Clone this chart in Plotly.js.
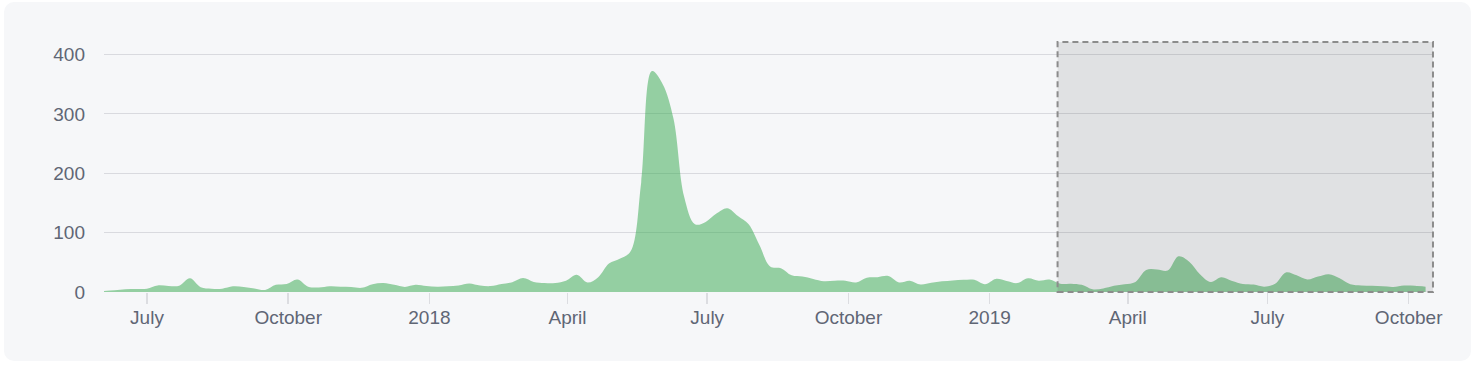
<!DOCTYPE html>
<html>
<head>
<meta charset="utf-8">
<script src="https://cdn.plot.ly/plotly-3.0.1.min.js"></script>
<style>
  html, body { margin:0; padding:0; background:#ffffff; overflow:hidden; }
  #card { position:absolute; left:4px; top:2px; width:1467px; height:359px; background:#f6f7f9; border-radius:10px; }
  #chart { position:absolute; left:0; top:0; width:1474px; height:368px; }
</style>
</head>
<body>
<div id="card"></div>
<div id="chart"></div>
<script>
// Weekly dates
const dates = [
  '2017-06-03','2017-06-10','2017-06-17','2017-06-24','2017-07-01','2017-07-08','2017-07-15','2017-07-22','2017-07-29',
  '2017-08-05','2017-08-12','2017-08-19','2017-08-26','2017-09-02','2017-09-09','2017-09-16','2017-09-23','2017-09-30',
  '2017-10-07','2017-10-14','2017-10-21','2017-10-28','2017-11-04','2017-11-11','2017-11-18','2017-11-25',
  '2017-12-02','2017-12-09','2017-12-16','2017-12-23','2017-12-30',
  '2018-01-06','2018-01-13','2018-01-20','2018-01-27','2018-02-03','2018-02-10','2018-02-17','2018-02-24',
  '2018-03-03','2018-03-10','2018-03-17','2018-03-24','2018-03-31','2018-04-07','2018-04-14','2018-04-21','2018-04-28',
  '2018-05-05','2018-05-12','2018-05-19','2018-05-26','2018-06-02','2018-06-09','2018-06-16','2018-06-23','2018-06-30',
  '2018-07-07','2018-07-14','2018-07-21','2018-07-28','2018-08-04','2018-08-11','2018-08-18','2018-08-25',
  '2018-09-01','2018-09-08','2018-09-15','2018-09-22','2018-09-29','2018-10-06','2018-10-13','2018-10-20','2018-10-27',
  '2018-11-03','2018-11-10','2018-11-17','2018-11-24','2018-12-01','2018-12-08','2018-12-15','2018-12-22','2018-12-29',
  '2019-01-05','2019-01-12','2019-01-19','2019-01-26','2019-02-02','2019-02-09','2019-02-16','2019-02-23',
  '2019-03-02','2019-03-09','2019-03-16','2019-03-23','2019-03-30','2019-04-06','2019-04-13','2019-04-20','2019-04-27',
  '2019-05-04','2019-05-11','2019-05-18','2019-05-25','2019-06-01','2019-06-08','2019-06-15','2019-06-22','2019-06-29',
  '2019-07-06','2019-07-13','2019-07-20','2019-07-27','2019-08-03','2019-08-10','2019-08-17','2019-08-24','2019-08-31',
  '2019-09-07','2019-09-14','2019-09-21','2019-09-28','2019-10-05','2019-10-12'
];

// Weekly counts
const counts = [
  1.5, 3, 4.5, 5, 5.5, 11, 10, 10.5, 23,
  8, 5.5, 5.5, 9.5, 8.5, 6, 3.5, 12, 13.5,
  21, 9, 7.5, 9.5, 9, 8.5, 7, 13,
  15, 12, 8.5, 12, 10,
  9, 9.5, 11, 14.5, 11, 10, 13.5, 16.5,
  23.5, 17, 15, 15, 19, 29, 16, 25, 48,
  56, 68, 185, 372, 350, 292, 160, 114, 118,
  132, 141, 128, 114, 79, 43, 40, 28,
  26, 22, 18, 19, 19, 16, 24, 25, 27,
  16, 19, 12.5, 15.5, 18, 19.5, 20.5, 20.5, 13,
  22, 18.5, 15, 23, 19, 21, 14, 14,
  12, 4.5, 6, 10.5, 13, 17, 37, 38, 36,
  60, 51, 30, 17, 25, 18.5, 13.5, 12.5, 9,
  14, 33, 28, 21, 26, 30, 23, 13, 11,
  10.5, 9.5, 8.5, 11, 10.5, 9
];

const xTickVals = ['2017-07-01','2017-10-01','2018-01-01','2018-04-01','2018-07-01','2018-10-01','2019-01-01','2019-04-01','2019-07-01','2019-10-01'];
const xTickText = ['July','October','2018','April','July','October','2019','April','July','October'];
const yTickVals = [0, 100, 200, 300, 400];
const yTickText = ['0', '100', '200', '300', '400'];

const selStart = '2019-02-14 06:00';
const selEnd = '2019-10-16 20:00';

const trace = {
  type: 'scatter',
  mode: 'lines',
  x: dates,
  y: counts,
  line: { shape: 'spline', smoothing: 1, width: 0, color: 'rgba(50,167,75,0.5)' },
  fill: 'tozeroy',
  fillcolor: 'rgba(50,167,75,0.5)',
  hoverinfo: 'skip'
};

const font = { family: '"Liberation Sans", Arial, Helvetica, sans-serif', size: 19, color: '#5f6675' };

const layout = {
  width: 1474,
  height: 368,
  margin: { l: 104, r: 40, t: 42, b: 76 },
  paper_bgcolor: 'rgba(0,0,0,0)',
  plot_bgcolor: 'rgba(0,0,0,0)',
  font: font,
  showlegend: false,
  xaxis: {
    type: 'date',
    range: ['2017-06-03', '2019-10-17 12:00'],
    tickvals: xTickVals,
    ticktext: xTickText,
    showgrid: false,
    zeroline: false,
    showline: false,
    ticks: 'outside',
    ticklen: 11,
    tickwidth: 1.5,
    tickcolor: '#dcdde1',
    ticklabelstandoff: -3,
    tickfont: font
  },
  yaxis: {
    range: [0, 421],
    tickvals: yTickVals,
    ticktext: yTickText,
    showgrid: true,
    gridcolor: '#d9dadf',
    gridwidth: 1,
    zeroline: false,
    showline: false,
    ticks: '',
    ticklabelstandoff: 18,
    tickfont: font
  },
  shapes: [{
    type: 'rect',
    xref: 'x', yref: 'paper',
    x0: selStart, x1: selEnd,
    y0: 0, y1: 1,
    fillcolor: 'rgba(0,0,0,0.085)',
    line: { color: '#8c8c8c', width: 2, dash: '6px,4px' },
    layer: 'above'
  }]
};

Plotly.newPlot('chart', [trace], layout, { displayModeBar: false, staticPlot: true });
</script>
</body>
</html>
